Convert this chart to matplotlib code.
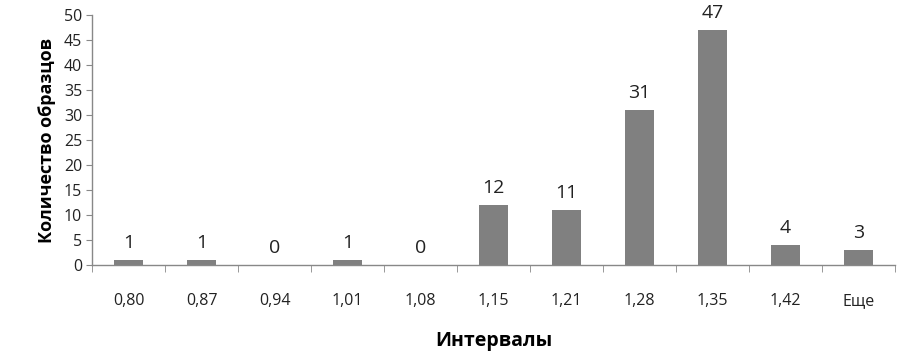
import matplotlib
matplotlib.use("Agg")
import matplotlib.pyplot as plt
import numpy as np

plt.rcParams['font.family'] = ['Open Sans', 'DejaVu Sans']

categories = ["0,80", "0,87", "0,94", "1,01", "1,08", "1,15", "1,21", "1,28", "1,35", "1,42", "Еще"]
counts = [1, 1, 0, 1, 0, 12, 11, 31, 47, 4, 3]

fig = plt.figure(figsize=(9.05, 3.6), dpi=100)
ax = fig.add_axes([92/905, 1-265/360, 803/905, 250/360])

x = np.arange(len(categories))
bars = ax.bar(x, counts, width=0.4, color='#808080', zorder=2)

for xi, v in zip(x, counts):
    ax.annotate(str(v), (xi, v), xytext=(0, 6), textcoords='offset points',
                ha='center', va='bottom', fontsize=14, color='#222222')

ax.set_xlim(-0.5, len(categories) - 0.5)
ax.set_ylim(0, 50)
ax.set_yticks(np.arange(0, 51, 5))
ax.tick_params(axis='y', labelsize=11.5, length=4, color='#888888', labelcolor='#222222', pad=3)

ax.set_xticks(x)
ax.set_xticklabels(categories)
ax.tick_params(axis='x', which='major', length=0, pad=20, labelsize=11.5, labelcolor='#222222')
ax.set_xticks(np.arange(-0.5, len(categories), 1), minor=True)
ax.tick_params(axis='x', which='minor', length=5, color='#888888', direction='out')

for s in ['top', 'right']:
    ax.spines[s].set_visible(False)
for s in ['left', 'bottom']:
    ax.spines[s].set_color('#888888')
    ax.spines[s].set_linewidth(1)

ax.set_ylabel('Количество образцов', fontsize=13, fontweight='bold', labelpad=6)
ax.set_xlabel('Интервалы', fontsize=14, fontweight='bold', labelpad=16)

fig.savefig('out.png', dpi=100)
